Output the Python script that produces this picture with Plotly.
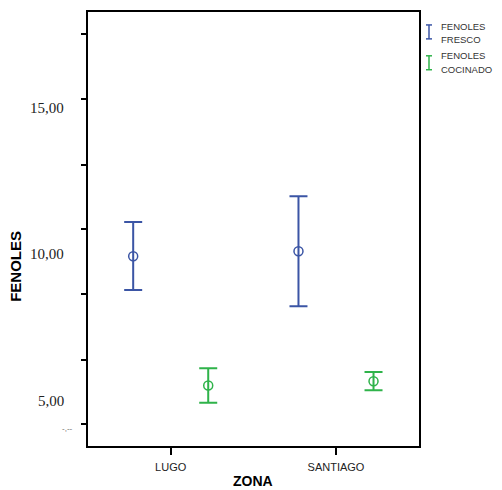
import plotly.graph_objects as go

# ---- data ----
zones = ["LUGO", "SANTIAGO"]
fresco_mean = [9.93, 10.10]
fresco_upper = [11.10, 11.98]
fresco_lower = [8.78, 8.22]
cocinado_mean = [5.51, 5.66]
cocinado_upper = [6.10, 5.97]
cocinado_lower = [4.92, 5.35]
y_label_vals = [15, 10, 5]
y_label_text = ["15,00", "10,00", "5,00"]
y_tick_vals = [17.52, 15.29, 13.06, 10.85, 8.64, 6.40, 4.21]
legend_names = [["FENOLES", "FRESCO"], ["FENOLES", "COCINADO"]]

BLUE = "#3b55a5"
GREEN = "#2fb34a"

OFF = 8  # page body margin
W, H = 502 - OFF, 490 - OFF
L, T = 88 - OFF, 10 - OFF
R = W - (419 - OFF)
B = H - (446 - OFF)
PW, PH = W - L - R, H - T - B

# y scale: label 10 at pixel 253.3, 29.4 px per unit
Y_TOP = 10 + (253.3 - 10) / 29.4
Y_BOT = 10 - (446 - 253.3) / 29.4
# x scale: LUGO at 170.7, SANTIAGO at 336
XU = 336 - 170.7
X_LEFT = -(170.7 - 88) / XU
X_RIGHT = 1 + (419 - 336) / XU


def px(xp):
    return (xp - OFF - L) / PW


def py(yp):
    return (H - B - (yp - OFF)) / PH


xpos = list(range(len(zones)))
off = 0.227

fig = go.Figure()
for means, up, lo, color, shift in [
    (fresco_mean, fresco_upper, fresco_lower, BLUE, -off),
    (cocinado_mean, cocinado_upper, cocinado_lower, GREEN, off),
]:
    fig.add_trace(go.Scatter(
        x=[x + shift for x in xpos], y=means, mode="markers",
        marker=dict(symbol="circle-open", size=9, color=color, line=dict(width=1.5, color=color)),
        error_y=dict(type="data", symmetric=False,
                     array=[u - m for u, m in zip(up, means)],
                     arrayminus=[m - l for m, l in zip(means, lo)],
                     color=color, thickness=2, width=9),
        showlegend=False, hoverinfo="skip"))

fig.update_layout(
    width=W, height=H, margin=dict(l=L, r=R, t=T, b=B),
    paper_bgcolor="white", plot_bgcolor="white",
    xaxis=dict(range=[X_LEFT, X_RIGHT], tickvals=xpos, ticktext=zones,
               showline=True, mirror=True, linecolor="black", linewidth=2,
               ticks="outside", ticklen=7, tickwidth=1.5, tickcolor="black",
               ticklabelstandoff=3,
               showgrid=False, zeroline=False,
               tickfont=dict(family="Liberation Sans, Arial", size=11, color="#222")),
    yaxis=dict(range=[Y_BOT, Y_TOP], tickvals=y_tick_vals, ticktext=[""] * len(y_tick_vals),
               showline=True, mirror=True, linecolor="black", linewidth=2,
               ticks="outside", ticklen=5, tickwidth=1.5, tickcolor="black",
               showgrid=False, zeroline=False),
)

ann = []
for v, t in zip(y_label_vals, y_label_text):
    ann.append(dict(x=0, xref="paper", xshift=-22, y=v, yref="y", text=t, showarrow=False,
                    xanchor="right", yanchor="middle",
                    font=dict(family="Liberation Serif, Times New Roman", size=15, color="#222")))
ann.append(dict(x=px(75), xref="paper", y=py(428), yref="paper", text="-,--", showarrow=False,
                xanchor="right", yanchor="middle",
                font=dict(family="Liberation Sans", size=8, color="#666")))
ann.append(dict(x=px(16), xref="paper", y=py(266), yref="paper", text="<b>FENOLES</b>", textangle=-90,
                showarrow=False, xanchor="center", yanchor="middle",
                font=dict(family="Liberation Sans, Arial", size=15, color="black")))
ann.append(dict(x=px(253), xref="paper", y=py(481), yref="paper", text="<b>ZONA</b>",
                showarrow=False, xanchor="center", yanchor="middle",
                font=dict(family="Liberation Sans, Arial", size=14, color="black")))

shapes = []
legend_text_y = [[25, 38], [54, 68]]
legend_icon_y = [30, 61]
for names, color, tys, cy in zip(legend_names, [BLUE, GREEN], legend_text_y, legend_icon_y):
    for line, ty in zip(names, tys):
        ann.append(dict(x=px(439), xref="paper", y=py(ty), yref="paper", text=line,
                        showarrow=False, xanchor="left", yanchor="middle",
                        font=dict(family="Liberation Sans, Arial", size=9.5, color="#333")))
    x0 = px(429)
    hw = 3 / PW
    top, bot = py(cy - 7), py(cy + 7)
    shapes.append(dict(type="line", xref="paper", yref="paper", x0=x0, x1=x0, y0=bot, y1=top,
                       line=dict(color=color, width=1.5)))
    for yy in (top, bot):
        shapes.append(dict(type="line", xref="paper", yref="paper", x0=x0 - hw, x1=x0 + hw, y0=yy, y1=yy,
                           line=dict(color=color, width=1.5)))

fig.update_layout(annotations=ann, shapes=shapes)
fig.write_html("out.html")
